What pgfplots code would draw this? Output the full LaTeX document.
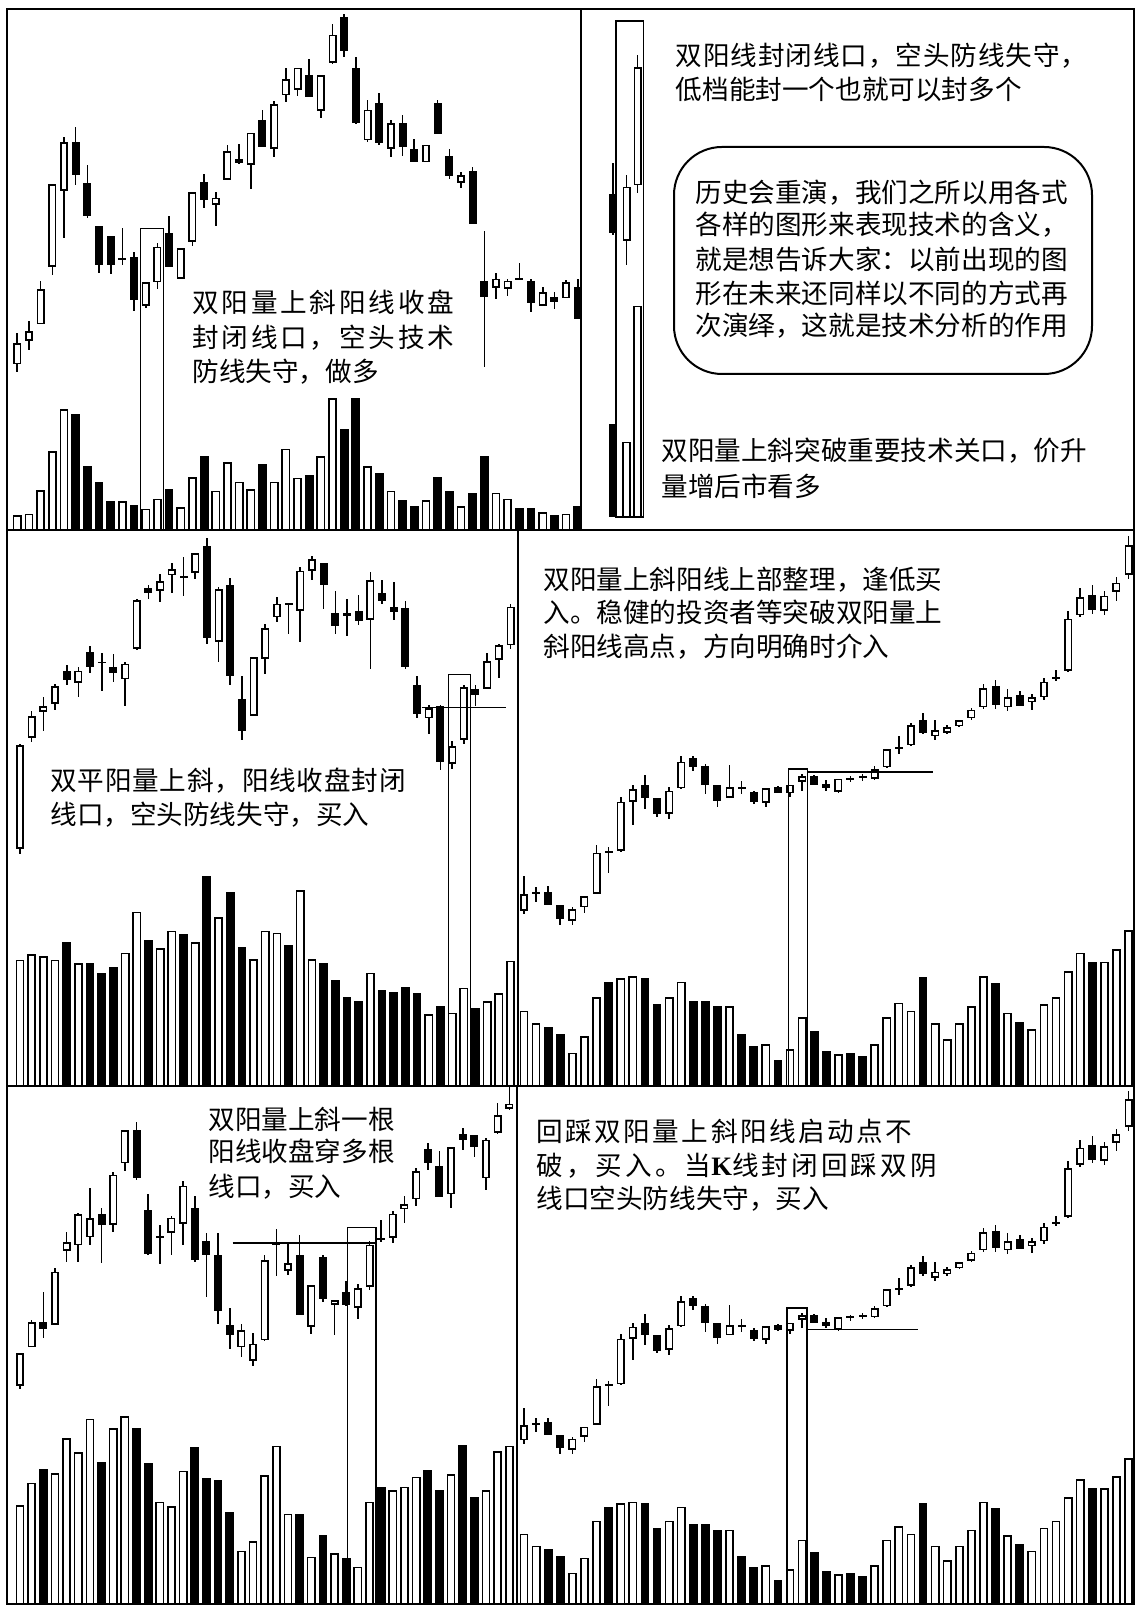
\documentclass[border=0pt]{standalone}
\usepackage{pgfplots}
\pgfplotsset{compat=1.18}
\usepackage{pgfplotstable}
\usepackage{fontspec}
\newfontfamily\cjk{Noto Sans CJK SC}
\newfontfamily\kfont{Liberation Serif}

% columns: i = candle, t/b = body top/bottom, h/l = wick top/bottom,
% w = hollow (1) or filled (0), v = top of volume bar, vw = hollow volume bar
% (values are read off the picture, y grows downwards)
\pgfplotstableread{
i t b h l w v vw
1 1015 1078 985 1100 1 1525 1
2 980 1008 950 1035 1 1520 1
3 855 960 830 960 1 1450 1
4 545 790 545 815 1 1335 1
5 420 565 405 705 1 1210 1
6 420 518 375 548 0 1225 0
7 540 640 487 645 0 1380 0
8 670 785 670 808 0 1425 0
9 697 785 697 810 0 1482 0
10 765 765 675 785 1 1482 1
11 760 888 745 920 0 1495 0
12 835 905 835 910 1 1505 1
13 730 835 720 855 1 1475 1
14 690 790 640 790 0 1448 0
15 735 825 735 825 1 1500 1
16 568 715 568 728 1 1412 1
17 538 592 515 615 0 1350 0
18 585 605 568 670 1 1452 1
19 448 532 430 532 1 1368 1
20 470 482 425 485 0 1425 1
21 392 488 392 558 1 1448 1
22 355 435 325 435 0 1373 0
23 308 440 300 465 1 1425 1
24 235 282 200 303 1 1328 1
25 200 265 200 285 1 1413 1
26 222 287 175 287 0 1405 0
27 222 327 222 350 1 1350 1
28 102 185 72 190 1 1178 1
29 50 152 40 168 0 1268 0
30 200 365 168 368 0 1178 0
31 325 415 295 420 1 1380 1
32 305 422 275 428 0 1400 0
33 365 440 355 465 1 1452 1
34 365 435 340 460 0 1480 0
35 440 480 410 480 0 1498 0
36 428 480 428 480 1 1480 1
37 305 395 295 395 0 1412 0
38 460 520 440 530 0 1452 0
39 518 540 508 556 1 1498 1
40 505 662 495 662 0 1458 0
41 830 880 682 1085 0 1350 0
42 825 852 808 885 1 1458 1
43 830 855 825 875 1 1475 1
44 825 825 778 828 1 1502 0
45 830 895 825 922 0 1502 0
46 865 905 848 905 1 1515 1
47 878 892 865 915 0 1525 0
48 835 882 828 882 1 1520 1
49 848 945 825 945 0 1498 0
}\tlA

\pgfplotstableread{
i t b h l w v vw
613 575 690 482 695 0 1255 0
626.5 552 712 518 785 1 1307 1
637.5 198 548 162 572 1 905 1
}\trA

\pgfplotstableread{
i t b h l w v vw
1 620 905 615 920 1 1210 1
2 540 600 525 610 1 1195 1
3 512 528 487 580 1 1200 1
4 458 505 450 522 1 1210 1
5 415 440 400 455 0 1162 0
6 415 448 405 488 1 1220 1
7 362 405 347 420 0 1220 0
8 392 392 367 470 0 1245 0
9 405 420 368 445 0 1230 0
10 395 438 390 512 1 1190 1
11 220 355 218 358 1 1078 1
12 186 200 178 218 0 1155 0
13 168 195 148 225 1 1178 1
14 135 152 118 200 1 1130 1
15 157 157 102 210 0 1140 0
16 92 145 90 162 1 1162 1
17 72 325 50 340 0 980 0
18 190 335 185 390 1 1092 1
19 180 428 160 455 0 1022 0
20 492 580 430 605 0 1175 0
21 378 538 378 538 1 1208 1
22 298 382 285 425 1 1130 1
23 230 268 213 282 1 1135 1
24 232 232 228 315 0 1170 0
25 140 250 130 335 1 1018 1
26 108 140 100 165 1 1208 1
27 118 178 118 245 0 1218 0
28 255 292 195 315 0 1265 0
29 255 265 218 320 0 1312 0
30 250 278 205 288 0 1322 0
31 165 275 142 410 1 1245 1
32 200 222 165 232 0 1292 0
33 238 252 170 275 0 1298 0
34 242 405 222 410 0 1285 0
35 455 535 428 545 0 1300 0
36 518 545 510 590 1 1360 1
37 512 665 508 688 0 1338 0
38 622 670 608 685 1 1355 1
39 460 605 455 615 1 1287 1
40 465 482 455 512 0 1342 0
41 388 465 365 465 1 1323 1
42 345 385 340 435 1 1302 1
43 238 345 230 355 1 1212 1
}\mlA

\pgfplotstableread{
i t b h l w v vw
1 1030 1075 978 1085 1 1350 1
2 1025 1025 1010 1050 1 1385 1
3 1022 1058 1008 1058 0 1395 0
4 1058 1098 1058 1115 0 1415 0
5 1070 1102 1065 1115 1 1465 1
6 1035 1065 1035 1080 1 1420 1
7 915 1028 895 1028 1 1312 1
8 912 912 900 972 1 1270 0
9 775 910 762 912 1 1260 1
10 740 775 730 838 1 1255 1
11 730 765 702 795 0 1260 0
12 765 810 765 818 0 1332 0
13 745 808 735 822 1 1312 1
14 665 738 648 740 1 1270 1
15 655 680 648 690 0 1322 0
16 678 730 672 755 0 1322 0
17 730 772 730 790 0 1338 0
18 735 765 675 765 1 1338 1
19 738 738 718 755 0 1415 0
20 748 775 745 782 0 1448 0
21 738 778 738 790 1 1442 1
22 735 750 732 752 0 1485 0
23 728 752 728 762 1 1455 1
24 705 720 700 745 1 1368 1
25 705 730 702 730 0 1405 0
26 725 738 715 745 0 1460 0
27 712 748 712 752 1 1470 1
28 712 712 705 722 0 1465 0
29 708 708 700 718 0 1475 0
30 685 712 678 715 1 1442 1
31 630 680 630 682 1 1368 1
32 628 628 595 645 1 1328 1
33 565 620 558 622 1 1350 1
34 550 585 532 590 0 1258 0
35 578 595 550 605 1 1385 1
36 570 585 565 590 1 1428 1
37 550 568 550 570 1 1385 1
38 522 545 518 550 1 1338 1
39 462 515 450 520 1 1255 1
40 458 508 440 520 0 1275 0
41 488 515 465 525 1 1355 1
42 482 512 470 512 0 1380 0
43 488 502 478 522 1 1400 1
44 445 488 435 495 1 1332 1
45 435 435 412 442 0 1312 1
46 272 415 250 418 1 1242 1
47 212 262 188 268 1 1190 1
48 205 248 178 258 0 1215 0
49 208 250 195 262 1 1215 1
50 172 198 158 222 1 1180 1
51 70 150 45 162 1 1128 1
}\mrA

\pgfplotstableread{
i t b h l w v vw
1 812 910 812 920 1 1265 1
2 720 795 715 795 1 1198 1
3 720 740 632 768 0 1158 0
4 570 728 558 728 1 1170 1
5 482 508 452 540 1 1065 1
6 400 492 395 540 1 1108 1
7 412 468 322 492 1 1008 1
8 400 430 382 545 0 1135 0
9 282 430 275 452 1 1035 1
10 150 248 150 270 1 1000 1
11 148 293 125 298 0 1035 0
12 388 518 340 522 0 1140 0
13 468 468 430 548 1 1255 1
14 410 455 405 520 1 1268 1
15 315 428 300 492 1 1162 1
16 382 535 345 540 0 1092 0
17 480 520 455 645 0 1185 0
18 522 688 455 725 0 1190 0
19 730 760 678 800 0 1285 0
20 745 795 725 825 1 1400 1
21 785 835 752 852 1 1372 1
22 537 775 522 775 1 1175 1
23 488 488 442 582 1 1088 1
24 545 568 488 580 1 1290 1
25 522 698 460 698 0 1290 0
26 610 735 610 755 1 1418 1
27 528 652 522 660 0 1355 0
28 655 668 655 760 1 1408 1
29 632 668 598 672 0 1422 0
30 620 678 608 712 1 1448 1
31 490 615 478 625 1 1255 1
32 472 472 418 482 0 1210 0
33 398 470 390 485 1 1220 1
34 370 385 345 425 1 1210 1
35 272 355 262 375 1 1180 1
36 205 248 188 268 0 1160 0
37 255 348 210 348 0 1220 0
38 200 340 200 380 1 1172 1
39 162 180 142 208 0 1085 0
40 165 200 165 228 0 1242 0
41 178 292 172 328 1 1220 1
42 105 158 68 160 1 1105 1
43 70 85 15 88 1 1088 1
}\blA

\pgfplotsset{
  panel/.style={scale only axis, hide axis, y dir=reverse, anchor=south west, clip=true},
  ebar/.style={draw=none, mark=none, error bars/y dir=both, error bars/y explicit,
    error bars/error mark=none, error bars/error bar style={#1}},
}

% #1 table, #2 outline thickness in data units, #3 foot of the volume bars
\newcommand\candles[3]{%
  \addplot[ebar={draw=black, line width=0.8pt}] table[x=i,
    y expr={(\thisrow{h}+\thisrow{l})/2}, y error expr={(\thisrow{l}-\thisrow{h})/2}] {#1};
  \addplot[ebar={draw=black, line width=4pt}] table[x=i,
    y expr={(\thisrow{t}+\thisrow{b})/2}, y error expr={max((\thisrow{b}-\thisrow{t})/2,0.6*#2)}] {#1};
  \addplot[ebar={draw=white, line width=2.4pt}] table[x=i,
    y expr={(\thisrow{t}+\thisrow{b})/2}, y error expr={\thisrow{w}*max((\thisrow{b}-\thisrow{t})/2-#2,0)}] {#1};
  \addplot[ebar={draw=black, line width=4.4pt}] table[x=i,
    y expr={(\thisrow{v}+#3)/2}, y error expr={(#3-\thisrow{v})/2}] {#1};
  \addplot[ebar={draw=white, line width=2.8pt}] table[x=i,
    y expr={(\thisrow{v}+#3)/2}, y error expr={\thisrow{vw}*max((#3-\thisrow{v})/2-#2,0)}] {#1};
}

\newcommand\tx[4]{\node[anchor=base west, inner sep=0pt] at (#1,#2)
  {\cjk\fontsize{13.3}{16}\selectfont\addfontfeature{LetterSpace=#3}#4};}

\begin{document}
\begin{tikzpicture}[x=0.5pt,y=0.5pt]
\useasboundingbox (0,0) rectangle (1138,1607);

% top left
\begin{axis}[panel, at={(3.5pt,538.5pt)}, width=287pt, height=260.25pt,
  xmin=0.118, xmax=49.28, ymin=28, ymax=1568]
\candles{\tlA}{4.7}{1600}
\draw[line width=0.7pt] (axis cs:11.57,1600) -- (axis cs:11.57,676) -- (axis cs:13.51,676) -- (axis cs:13.51,1600);
\end{axis}

% top right
\begin{axis}[panel, at={(290.5pt,538.5pt)}, width=276.5pt, height=260.25pt,
  xmin=581, xmax=1134, ymin=28, ymax=1568]
\candles{\trA}{4.7}{1530}
\draw[line width=0.7pt] (axis cs:616,1530) rectangle (axis cs:643.3,62);
\end{axis}

% middle left
\begin{axis}[panel, at={(3.5pt,260.5pt)}, width=255.5pt, height=277.5pt,
  xmin=-0.113, xmax=43.64, ymin=30.3, ymax=1557]
\candles{\mlA}{4.4}{1600}
\draw[line width=0.7pt] (axis cs:37.67,1600) -- (axis cs:37.67,425) -- (axis cs:39.59,425) -- (axis cs:39.59,1600);
\draw[line width=0.7pt] (axis cs:35.39,515) -- (axis cs:42.6,515);
\end{axis}

% middle right
\begin{axis}[panel, at={(259pt,260.5pt)}, width=308pt, height=277.5pt,
  xmin=0.504, xmax=51.45, ymin=30.3, ymax=1557]
\candles{\mrA}{4.4}{1600}
\draw[line width=0.7pt] (axis cs:22.86,1600) -- (axis cs:22.86,685) -- (axis cs:24.46,685) -- (axis cs:24.46,1600);
\draw[line width=0.7pt] (axis cs:24.46,693) -- (axis cs:34.8,693);
\end{axis}

% bottom left
\begin{axis}[panel, at={(3.5pt,1.5pt)}, width=255pt, height=259pt,
  xmin=-0.116, xmax=43.66, ymin=17.9, ymax=1558.9]
\candles{\blA}{4.8}{1600}
\draw[line width=0.7pt] (axis cs:19.26,485) -- (axis cs:31.47,485);
\draw[line width=0.7pt] (axis cs:29.13,1600) -- (axis cs:29.13,438) -- (axis cs:31.56,438) -- (axis cs:31.56,1600);
\end{axis}

% bottom right: the same chart as middle right
\begin{axis}[panel, at={(258.5pt,1.5pt)}, width=308.5pt, height=259pt,
  xmin=0.42, xmax=51.45, ymin=30.3, ymax=1557]
\candles{\mrA}{4.7}{1600}
\draw[line width=0.7pt] (axis cs:22.75,1600) -- (axis cs:22.75,685) -- (axis cs:24.4,685) -- (axis cs:24.4,1600);
\draw[line width=0.7pt] (axis cs:24.4,748.5) -- (axis cs:33.56,748.5);
\end{axis}

% frames
\draw[line width=1pt] (7,3) rectangle (1134,1597.5);
\draw[line width=1pt] (7,1077) -- (1134,1077);
\draw[line width=1pt] (7,521) -- (1134,521);
\draw[line width=1pt] (581,1077) -- (581,1597.5);
\draw[line width=1pt] (518,521) -- (518,1077);
\draw[line width=1pt] (517,3) -- (517,521);

% texts
\tx{192}{1294}{10.5}{双阳量上斜阳线收盘}
\tx{192}{1259}{10.5}{封闭线口，空头技术}
\tx{192}{1225}{0}{防线失守，做多}

\tx{675.5}{1541}{3.4}{双阳线封闭线口，空头防线失守，}
\tx{675.5}{1507}{0}{低档能封一个也就可以封多个}
\draw[line width=1pt, rounded corners=24pt] (674,1460) rectangle (1092,1233);
\tx{695}{1404}{0}{历史会重演，我们之所以用各式}
\tx{695}{1372}{0}{各样的图形来表现技术的含义，}
\tx{695}{1337}{0}{就是想告诉大家：以前出现的图}
\tx{695}{1303}{0}{形在未来还同样以不同的方式再}
\tx{695}{1271}{0}{次演绎，这就是技术分析的作用}
\tx{661}{1146}{0}{双阳量上斜突破重要技术关口，价升}
\tx{661}{1110}{0}{量增后市看多}

\tx{50}{816}{3}{双平阳量上斜，阳线收盘封闭}
\tx{50}{782}{0}{线口，空头防线失守，买入}

\tx{543}{1017}{0}{双阳量上斜阳线上部整理，逢低买}
\tx{543}{984}{0}{入。稳健的投资者等突破双阳量上}
\tx{543}{950}{0}{斜阳线高点，方向明确时介入}

\tx{208}{477}{0}{双阳量上斜一根}
\tx{208}{445}{0}{阳线收盘穿多根}
\tx{208}{410}{0}{线口，买入}

\tx{536}{465}{9.4}{回踩双阳量上斜阳线启动点不}
\tx{536}{431}{11.6}{破，买入。当{\kfont\bfseries K}线封闭回踩双阴}
\tx{536}{398}{0}{线口空头防线失守，买入}
\end{tikzpicture}
\end{document}
